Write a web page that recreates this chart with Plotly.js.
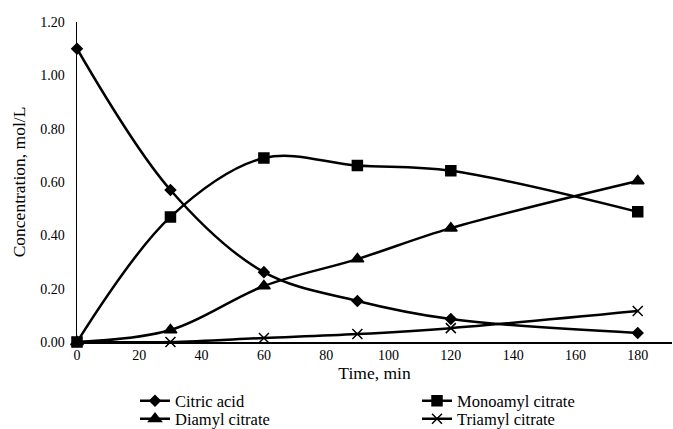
<!DOCTYPE html>
<html><head><meta charset="utf-8">
<script src="https://cdn.plot.ly/plotly-3.0.1.min.js"></script>
<style>html,body{margin:0;padding:0;background:#fff}</style>
</head><body>
<div id="chart" style="width:673px;height:429px"></div>
<script>
const time = [0, 30, 60, 90, 120, 180];
const citricAcid = [1.10, 0.57, 0.262, 0.154, 0.086, 0.034];
const monoamyl = [0.0, 0.469, 0.690, 0.662, 0.642, 0.488];
const diamyl = [0.0, 0.045, 0.210, 0.311, 0.427, 0.604];
const triamyl = [0.0, 0.0, 0.015, 0.030, 0.052, 0.116];
const names = ['Citric acid', 'Monoamyl citrate', 'Diamyl citrate', 'Triamyl citrate'];
const symbols = ['diamond', 'square', 'triangle-up', 'x-thin-open'];
const sizes = [8, 10, 11, 10];
const series = [citricAcid, monoamyl, diamyl, triamyl];
const legendIds = ['legend', 'legend2', 'legend3', 'legend4'];
const traces = series.map((ys, i) => ({
  x: time, y: ys, name: names[i], type: 'scatter', mode: 'lines+markers',
  legend: legendIds[i],
  line: {color: '#000', width: 2.5, shape: 'spline', smoothing: 1},
  marker: {symbol: symbols[i], size: sizes[i], color: '#000', line: {color: '#000', width: 1.5}},
  cliponaxis: false
}));
const L = 77, T = 22, W = 595, H = 320;
function leg(xpx, ypx) {
  return {
    xref: 'paper', yref: 'paper',
    x: (xpx - L) / W, xanchor: 'left', y: (T + H - ypx) / H, yanchor: 'middle',
    font: {size: 16.5}, itemwidth: 30, bgcolor: 'rgba(0,0,0,0)', borderwidth: 0
  };
}
const layout = {
  width: 673, height: 429,
  margin: {l: L, r: 673 - L - W, t: T, b: 429 - T - H, autoexpand: false},
  paper_bgcolor: '#fff', plot_bgcolor: '#fff',
  font: {family: '"Liberation Serif", "Times New Roman", serif', color: '#000', size: 14},
  showlegend: true,
  xaxis: {
    range: [0, 191], tickvals: [0,20,40,60,80,100,120,140,160,180],
    showgrid: false, zeroline: false, showline: true, linecolor: '#000', linewidth: 1.5,
    ticks: '', tickfont: {size: 14},
    title: {text: 'Time, min', font: {size: 17.5}, standoff: 4}
  },
  yaxis: {
    range: [0, 1.2], tickvals: [0,0.2,0.4,0.6,0.8,1.0,1.2], tickformat: '.2f',
    showgrid: false, zeroline: false, showline: true, linecolor: '#000', linewidth: 1.5,
    ticks: '', tickfont: {size: 14}, ticklabelstandoff: 8,
    title: {text: 'Concentration, mol/L', font: {size: 17.5}, standoff: 10}
  },
  legend: leg(135, 401),
  legend2: leg(417, 401),
  legend3: leg(135, 419),
  legend4: leg(417, 419)
};
Plotly.newPlot('chart', traces, layout, {displayModeBar: false, staticPlot: true});
</script>
</body></html>
